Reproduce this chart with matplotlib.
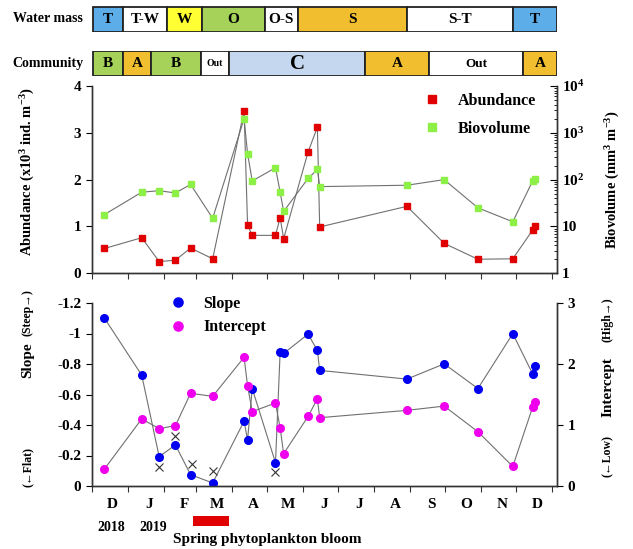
import numpy as np
import pandas as pd
import matplotlib
matplotlib.use("Agg")
import matplotlib.pyplot as plt
import matplotlib.dates as mdates
from matplotlib.ticker import FixedLocator, FixedFormatter, FuncFormatter, NullFormatter
from matplotlib.patches import Rectangle

plt.rcParams["font.family"] = ["Liberation Serif", "DejaVu Serif"]
plt.rcParams["font.weight"] = "bold"
plt.rcParams["axes.unicode_minus"] = False
plt.rcParams["mathtext.fontset"] = "custom"
plt.rcParams["mathtext.rm"] = "Liberation Serif:bold"
plt.rcParams["mathtext.it"] = "Liberation Serif:bold"
plt.rcParams["mathtext.bf"] = "Liberation Serif:bold"
plt.rcParams["mathtext.default"] = "rm"

# sampling dates and values
sample_dates = pd.to_datetime([
    "2018-12-12", "2019-01-13", "2019-01-28", "2019-02-11", "2019-02-24",
    "2019-03-15", "2019-04-11", "2019-04-14", "2019-04-18", "2019-05-08",
    "2019-05-12", "2019-05-15", "2019-06-05", "2019-06-13", "2019-06-15",
    "2019-08-29", "2019-09-30", "2019-10-29", "2019-11-28", "2019-12-15",
    "2019-12-17"])
abundance = [0.53, 0.76, 0.25, 0.28, 0.54, 0.31, 3.47, 1.03, 0.81, 0.81,
             1.19, 0.74, 2.59, 3.12, 0.99, 1.43, 0.64, 0.30, 0.31, 0.92, 1.02]
biovolume = [18, 54, 58, 52, 79, 15, 2000, 360, 94, 179,
             54, 21, 106, 165, 71, 76, 100, 25, 12.6, 93, 103]
slope = [-1.10, -0.727, -0.193, -0.269, -0.074, -0.020, -0.425, -0.302, -0.639, -0.153,
         -0.880, -0.869, -0.996, -0.889, -0.758, -0.701, -0.801, -0.639, -0.999, -0.736, -0.784]
intercept = [0.28, 1.10, 0.94, 0.99, 1.52, 1.47, 2.11, 1.64, 1.22, 1.36,
             0.95, 0.53, 1.14, 1.43, 1.12, 1.24, 1.31, 0.89, 0.32, 1.29, 1.37]
cross_dates = pd.to_datetime(["2019-01-28", "2019-02-11", "2019-02-25", "2019-03-15", "2019-05-08"])
cross_slope = [-0.125, -0.331, -0.147, -0.096, -0.092]

water_mass = ["T", "T-W", "W", "O", "O-S", "S", "S-T", "T"]
water_edges = pd.to_datetime(["2018-12-02", "2018-12-28", "2019-02-04", "2019-03-06", "2019-04-29",
                              "2019-05-27", "2019-08-29", "2019-11-28", "2020-01-05"])
community = ["B", "A", "B", "Out", "C", "A", "Out", "A"]
community_edges = pd.to_datetime(["2018-12-02", "2018-12-28", "2019-01-21", "2019-03-05", "2019-03-29",
                                  "2019-07-24", "2019-09-17", "2019-12-07", "2020-01-05"])
bloom = pd.to_datetime(["2019-02-26", "2019-03-29"])

blue_c = "#5DADE8"
yellow_c = "#FFFF33"
green_c = "#A6D25A"
orange_c = "#F0BE2E"
white_c = "#FFFFFF"
lightblue_c = "#C4D7EE"
water_colors = [blue_c, white_c, yellow_c, green_c, white_c, orange_c, white_c, blue_c]
water_sizes = [11, 11, 11, 11, 11, 11, 11, 11]
comm_colors = [green_c, orange_c, green_c, white_c, lightblue_c, orange_c, white_c, orange_c]
comm_sizes = [11, 11, 11, 7, 15, 11, 9.5, 11]

xmin = mdates.date2num(pd.Timestamp("2018-12-01"))
xmax = mdates.date2num(pd.Timestamp("2020-01-05"))
line_c = "#707070"

fig = plt.figure(figsize=(6.33, 5.49), dpi=100)
L, W = 91.7 / 633, (557 - 91.7) / 633


def px_box(top, bottom):
    return [L, 1 - bottom / 549, W, (bottom - top) / 549]


def header(rect, labels, edges, colors, sizes, title):
    ax = fig.add_axes(rect)
    e = mdates.date2num(edges)
    for i in range(len(labels)):
        ax.add_patch(Rectangle((e[i], 0), e[i + 1] - e[i], 1, facecolor=colors[i],
                               edgecolor="#222222", lw=1.3))
        ax.text((e[i] + e[i + 1]) / 2, 0.48, labels[i], ha="center", va="center",
                fontsize=sizes[i], fontweight="bold")
    ax.set_xlim(xmin, xmax)
    ax.set_ylim(-0.02, 1.02)
    ax.axis("off")
    fig.text(83 / 633, rect[1] + rect[3] / 2, title, ha="right", va="center",
             fontsize=10, fontweight="bold")


header(px_box(6, 32), water_mass, water_edges, water_colors, water_sizes, "Water mass")
header(px_box(51, 76), community, community_edges, comm_colors, comm_sizes, "Community")

# top panel
ax1 = fig.add_axes(px_box(86, 273.3))
ax1.plot(sample_dates, abundance, color=line_c, lw=0.8, zorder=1)
h1, = ax1.plot(sample_dates, abundance, "s", color="#E00000", ms=5, zorder=3, label="Abundance")
ax1.set_ylim(0, 4)
ax1.set_yticks([0, 1, 2, 3, 4])
ax1b = ax1.twinx()
ax1b.plot(sample_dates, biovolume, color=line_c, lw=0.8, zorder=1)
h2, = ax1b.plot(sample_dates, biovolume, "s", color="#8CF046", ms=5, zorder=3, label="Biovolume")
ax1b.set_yscale("log")
ax1b.set_ylim(1, 1e4)
ax1b.yaxis.set_major_locator(FixedLocator([1, 10, 100, 1000, 10000]))
ax1b.yaxis.set_major_formatter(FixedFormatter(["1", "10", "$10^2$", "$10^3$", "$10^4$"]))
ax1b.tick_params(axis="y", which="major", direction="in", length=5, labelsize=11)
ax1b.tick_params(axis="y", which="minor", direction="in", length=2.5)
ax1b.legend(handles=[h1, h2], loc="upper left", bbox_to_anchor=(0.714, 0.964),
            frameon=False, fontsize=11.5, borderpad=0, borderaxespad=0,
            handlelength=1, handletextpad=1.1, labelspacing=0.75, markerscale=1.25)

# bottom panel
ax2 = fig.add_axes(px_box(303, 486))
ax2.plot(sample_dates, slope, color=line_c, lw=0.8, zorder=1)
ax2.plot(cross_dates, cross_slope, "x", color="#333333", ms=6, mew=0.8, zorder=2)
h3, = ax2.plot(sample_dates, slope, "o", color="#0000F0", ms=5.5, zorder=3, label="Slope")
ax2.set_ylim(0, -1.2)
ax2.set_yticks([0, -0.2, -0.4, -0.6, -0.8, -1.0, -1.2])
ax2.yaxis.set_major_formatter(FuncFormatter(lambda v, p: "%g" % v))
ax2b = ax2.twinx()
ax2b.plot(sample_dates, intercept, color=line_c, lw=0.8, zorder=1)
h4, = ax2b.plot(sample_dates, intercept, "o", color="#EE00EE", ms=5.5, zorder=3, label="Intercept")
ax2b.set_ylim(0, 3)
ax2b.set_yticks([0, 1, 2, 3])
ax2b.tick_params(axis="y", direction="out", length=4, labelsize=11)
ax2b.legend(handles=[h3, h4], loc="upper left", bbox_to_anchor=(0.169, 1.038),
            frameon=False, fontsize=11.5, borderpad=0, borderaxespad=0,
            handlelength=1, handletextpad=1.05, labelspacing=0.45, markerscale=1.2)

for ax in (ax1, ax2):
    ax.set_xlim(xmin, xmax)
    ax.xaxis.set_major_locator(mdates.MonthLocator())
    ax.xaxis.set_major_formatter(NullFormatter())
    ax.xaxis.set_minor_locator(mdates.MonthLocator(bymonthday=19))
    ax.tick_params(axis="x", which="major", direction="out", length=4, color="#333333")
    ax.tick_params(axis="x", which="minor", length=0, pad=9, labelsize=11)
    ax.tick_params(axis="y", direction="out", length=4, labelsize=11)
ax1.xaxis.set_minor_formatter(NullFormatter())
ax2.xaxis.set_minor_formatter(FuncFormatter(lambda v, p: mdates.num2date(v).strftime("%b")[0]))

for ax in (ax1, ax1b, ax2, ax2b):
    ax.spines["top"].set_visible(False)
    for s in ("left", "right", "bottom"):
        ax.spines[s].set_color("#333333")
        ax.spines[s].set_linewidth(1.0)

# year labels and bloom bar under the months
for d, yr in [("2018-12-18", "2018"), ("2019-01-23", "2019")]:
    ax2.text(mdates.date2num(pd.Timestamp(d)), -0.225, yr, transform=ax2.get_xaxis_transform(),
             ha="center", va="center", fontsize=10, fontweight="bold")
b = mdates.date2num(bloom)
ax2.add_patch(Rectangle((b[0], -0.217), b[1] - b[0], 0.055, transform=ax2.get_xaxis_transform(),
                        facecolor="#E00000", edgecolor="none", clip_on=False))
fig.text(267 / 633, 1 - 539 / 549, "Spring phytoplankton bloom", ha="center", va="center",
         fontsize=11, fontweight="bold")

# axis titles
fig.text(28 / 633, 1 - 171.5 / 549, "Abundance (x10$^3$ ind. m$^{-3}$)", rotation=90,
         ha="center", va="center", fontsize=10.5, fontweight="bold")
fig.text(613 / 633, 1 - 180 / 549, "Biovolume (mm$^3$ m$^{-3}$)", rotation=90,
         ha="center", va="center", fontsize=10.5, fontweight="bold")
fig.text(28 / 633, 1 - 360 / 549, "Slope", rotation=90, ha="center", va="center",
         fontsize=11, fontweight="bold")
fig.text(28 / 633, 1 - 313 / 549, "(Steep→)", rotation=90, ha="center", va="center",
         fontsize=8.5, fontweight="bold")
fig.text(28 / 633, 1 - 467 / 549, "(←Flat)", rotation=90, ha="center", va="center",
         fontsize=8.5, fontweight="bold")
fig.text(608 / 633, 1 - 387 / 549, "Intercept", rotation=90, ha="center", va="center",
         fontsize=11, fontweight="bold")
fig.text(608 / 633, 1 - 320 / 549, "(High→)", rotation=90, ha="center", va="center",
         fontsize=8.5, fontweight="bold")
fig.text(608 / 633, 1 - 456 / 549, "(←Low)", rotation=90, ha="center", va="center",
         fontsize=8.5, fontweight="bold")

fig.savefig("out.png", dpi=100)
